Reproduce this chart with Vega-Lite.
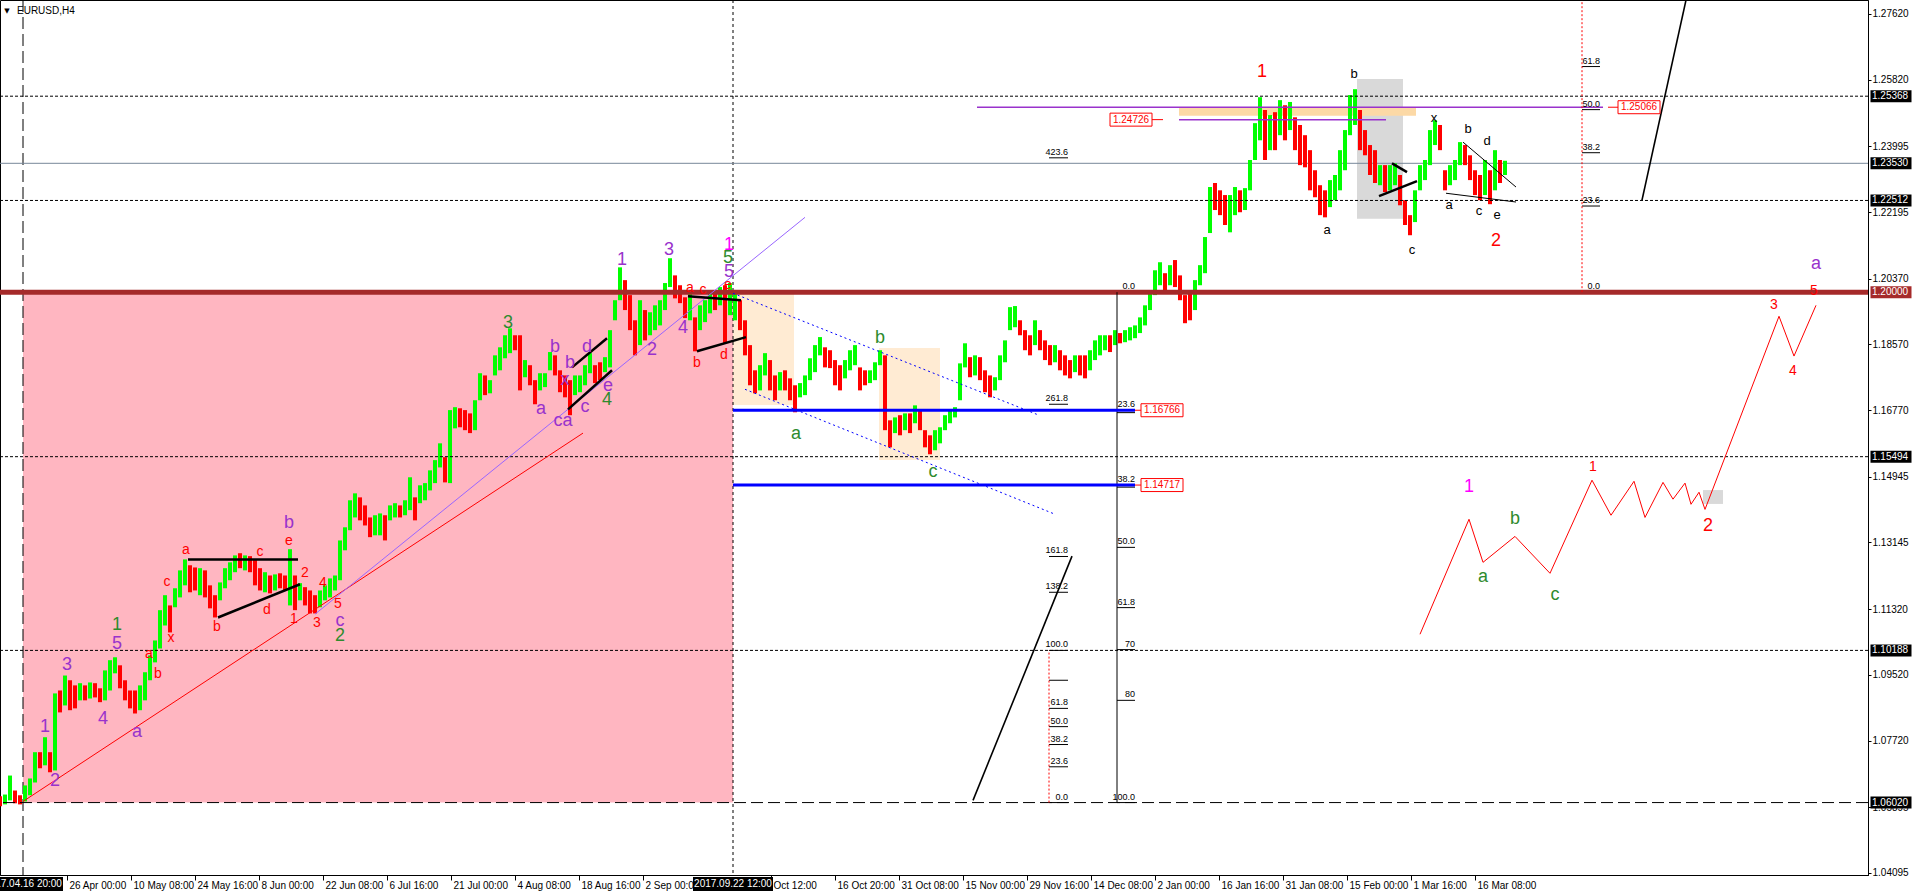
{
"$schema":"https://vega.github.io/schema/vega-lite/v6.json",
"width":1868,"height":875,
"autosize":{"type":"none"},
"padding":{"left":0,"top":0,"right":44,"bottom":21},
"background":"white",
"config":{"view":{"stroke":"#000","strokeWidth":1},"axis":{"grid":false,"domainColor":"#000","tickColor":"#000","labelColor":"#000","labelFont":"Liberation Sans","labelFontSize":10,"labelOverlap":false,"labelFlush":false}},
"datasets":{
"zones":[
{"k":"range","x1":23,"x2":733,"p1":1.0602,"p2":1.2},
{"k":"zone","x1":733,"x2":794,"p1":1.1691,"p2":1.2},
{"k":"zone","x1":879,"x2":940,"p1":1.154,"p2":1.1847},
{"k":"box","x1":1357,"x2":1403,"p1":1.2201,"p2":1.2584},
{"k":"box","x1":1703,"x2":1723,"p1":1.142,"p2":1.1458},
{"k":"target","x1":1179,"x2":1416,"p1":1.2483,"p2":1.2507}
],
"vlines":[{"x":23,"k":"start"},{"x":733,"k":"pivot"}],
"levels":[{"p":1.25368,"k":"swing"},{"p":1.2353,"k":"bid"},{"p":1.22512,"k":"swing"},{"p":1.2,"k":"pivot"},{"p":1.15494,"k":"swing"},{"p":1.10188,"k":"swing"},{"p":1.0602,"k":"base"}],
"bars":[
{"x":0,"o":1.0619,"c":1.0592},{"x":5,"o":1.0597,"c":1.0624},{"x":10,"o":1.0608,"c":1.0676},{"x":15,"o":1.0635,"c":1.06},{"x":20,"o":1.0622,"c":1.0597},{"x":25,"o":1.0605,"c":1.0649},{"x":30,"o":1.0622,"c":1.0668},{"x":35,"o":1.0657,"c":1.074},{"x":40,"o":1.074,"c":1.0696},{"x":45,"o":1.0704,"c":1.0781},{"x":50,"o":1.074,"c":1.0685},{"x":55,"o":1.069,"c":1.0901},{"x":60,"o":1.0909,"c":1.0849},{"x":65,"o":1.0868,"c":1.095},{"x":70,"o":1.0937,"c":1.0855},{"x":75,"o":1.0923,"c":1.086},{"x":80,"o":1.0882,"c":1.0929},{"x":85,"o":1.0923,"c":1.0882},{"x":90,"o":1.0887,"c":1.0931},{"x":95,"o":1.0929,"c":1.089},{"x":100,"o":1.0915,"c":1.0877},{"x":105,"o":1.0882,"c":1.0964},{"x":110,"o":1.0909,"c":1.0992},{"x":115,"o":1.0956,"c":1.1},{"x":120,"o":1.0978,"c":1.0915},{"x":125,"o":1.0937,"c":1.0882},{"x":130,"o":1.0909,"c":1.086},{"x":135,"o":1.0909,"c":1.0846},{"x":140,"o":1.0855,"c":1.0923},{"x":145,"o":1.0882,"c":1.0959},{"x":150,"o":1.0937,"c":1.1005},{"x":155,"o":1.0986,"c":1.1046},{"x":160,"o":1.1024,"c":1.1129},{"x":165,"o":1.1087,"c":1.117},{"x":170,"o":1.1142,"c":1.1068},{"x":175,"o":1.1137,"c":1.1189},{"x":180,"o":1.1164,"c":1.1238},{"x":185,"o":1.1197,"c":1.1268},{"x":190,"o":1.1252,"c":1.1178},{"x":195,"o":1.1246,"c":1.1183},{"x":200,"o":1.117,"c":1.1244},{"x":205,"o":1.1238,"c":1.1164},{"x":210,"o":1.1197,"c":1.1134},{"x":215,"o":1.117,"c":1.1109},{"x":220,"o":1.1156,"c":1.1205},{"x":225,"o":1.1189,"c":1.1244},{"x":230,"o":1.1211,"c":1.126},{"x":235,"o":1.1233,"c":1.1279},{"x":240,"o":1.1285,"c":1.1244},{"x":245,"o":1.1238,"c":1.1279},{"x":250,"o":1.1277,"c":1.1233},{"x":255,"o":1.1266,"c":1.1197},{"x":260,"o":1.1244,"c":1.1183},{"x":265,"o":1.1178,"c":1.1233},{"x":270,"o":1.1224,"c":1.1175},{"x":275,"o":1.1183,"c":1.1227},{"x":280,"o":1.123,"c":1.1189},{"x":285,"o":1.1224,"c":1.1183},{"x":290,"o":1.1142,"c":1.1296},{"x":295,"o":1.1224,"c":1.1129},{"x":300,"o":1.1156,"c":1.1203},{"x":305,"o":1.1192,"c":1.1142},{"x":310,"o":1.1183,"c":1.112},{"x":315,"o":1.117,"c":1.112},{"x":320,"o":1.1137,"c":1.1183},{"x":325,"o":1.1156,"c":1.1197},{"x":330,"o":1.1164,"c":1.1216},{"x":335,"o":1.1183,"c":1.1224},{"x":340,"o":1.1211,"c":1.132},{"x":345,"o":1.1293,"c":1.1356},{"x":350,"o":1.1348,"c":1.143},{"x":355,"o":1.1383,"c":1.1449},{"x":360,"o":1.1438,"c":1.1375},{"x":365,"o":1.1416,"c":1.1361},{"x":370,"o":1.1383,"c":1.1329},{"x":375,"o":1.1334,"c":1.1389},{"x":380,"o":1.1334,"c":1.1394},{"x":385,"o":1.1389,"c":1.132},{"x":390,"o":1.1375,"c":1.1416},{"x":395,"o":1.1383,"c":1.1422},{"x":400,"o":1.1416,"c":1.1383},{"x":405,"o":1.1389,"c":1.143},{"x":410,"o":1.1403,"c":1.1493},{"x":415,"o":1.1438,"c":1.1375},{"x":420,"o":1.1422,"c":1.1471},{"x":425,"o":1.143,"c":1.1477},{"x":430,"o":1.1457,"c":1.1512},{"x":435,"o":1.1477,"c":1.154},{"x":440,"o":1.152,"c":1.1586},{"x":445,"o":1.1548,"c":1.1479},{"x":450,"o":1.1477,"c":1.1677},{"x":455,"o":1.1627,"c":1.1685},{"x":460,"o":1.1682,"c":1.163},{"x":465,"o":1.1677,"c":1.1622},{"x":470,"o":1.1668,"c":1.1614},{"x":475,"o":1.1622,"c":1.1704},{"x":480,"o":1.1704,"c":1.1778},{"x":485,"o":1.1772,"c":1.1718},{"x":490,"o":1.1723,"c":1.1759},{"x":495,"o":1.1772,"c":1.1827},{"x":500,"o":1.1786,"c":1.1849},{"x":505,"o":1.1819,"c":1.1882},{"x":510,"o":1.1833,"c":1.1901},{"x":515,"o":1.1882,"c":1.1841},{"x":520,"o":1.1882,"c":1.1731},{"x":525,"o":1.1767,"c":1.1814},{"x":530,"o":1.18,"c":1.1745},{"x":535,"o":1.1759,"c":1.1693},{"x":540,"o":1.1731,"c":1.1778},{"x":545,"o":1.174,"c":1.1778},{"x":550,"o":1.1786,"c":1.1836},{"x":555,"o":1.1827,"c":1.1772},{"x":560,"o":1.1786,"c":1.1726},{"x":565,"o":1.1772,"c":1.1712},{"x":570,"o":1.1759,"c":1.1663},{"x":575,"o":1.1718,"c":1.1772},{"x":580,"o":1.1726,"c":1.1772},{"x":585,"o":1.1745,"c":1.18},{"x":590,"o":1.1778,"c":1.1833},{"x":595,"o":1.18,"c":1.1751},{"x":600,"o":1.1808,"c":1.1759},{"x":605,"o":1.1781,"c":1.1822},{"x":610,"o":1.1794,"c":1.1896},{"x":615,"o":1.1923,"c":1.1978},{"x":620,"o":1.1978,"c":1.2068},{"x":625,"o":1.2033,"c":1.1951},{"x":630,"o":1.1992,"c":1.1896},{"x":635,"o":1.1923,"c":1.1827},{"x":640,"o":1.1855,"c":1.1978},{"x":645,"o":1.1951,"c":1.1868},{"x":650,"o":1.1882,"c":1.1945},{"x":655,"o":1.1896,"c":1.1964},{"x":660,"o":1.1909,"c":1.1978},{"x":665,"o":1.1951,"c":1.2025},{"x":670,"o":1.2014,"c":1.2093},{"x":675,"o":1.2046,"c":1.1983},{"x":680,"o":1.2019,"c":1.197},{"x":685,"o":1.1986,"c":1.1929},{"x":690,"o":1.1923,"c":1.1997},{"x":695,"o":1.1931,"c":1.1838},{"x":700,"o":1.1896,"c":1.1964},{"x":705,"o":1.1918,"c":1.1978},{"x":710,"o":1.1942,"c":1.1997},{"x":715,"o":1.2005,"c":1.1951},{"x":720,"o":1.1964,"c":1.2014},{"x":725,"o":1.2019,"c":1.186},{"x":730,"o":1.1937,"c":1.2025},{"x":735,"o":1.1923,"c":1.2005},{"x":740,"o":1.1978,"c":1.1896},{"x":745,"o":1.1923,"c":1.1827},{"x":750,"o":1.1855,"c":1.1745},{"x":755,"o":1.1786,"c":1.1723},{"x":760,"o":1.1731,"c":1.18},{"x":765,"o":1.1772,"c":1.1833},{"x":770,"o":1.1814,"c":1.1731},{"x":775,"o":1.1772,"c":1.1704},{"x":780,"o":1.1731,"c":1.1781},{"x":785,"o":1.1786,"c":1.1731},{"x":790,"o":1.1764,"c":1.1704},{"x":795,"o":1.1745,"c":1.1671},{"x":800,"o":1.1712,"c":1.1751},{"x":805,"o":1.1718,"c":1.1772},{"x":810,"o":1.1759,"c":1.1819},{"x":815,"o":1.1781,"c":1.1855},{"x":820,"o":1.1827,"c":1.1877},{"x":825,"o":1.1849,"c":1.1794},{"x":830,"o":1.1841,"c":1.1792},{"x":835,"o":1.1814,"c":1.1745},{"x":840,"o":1.18,"c":1.1731},{"x":845,"o":1.1764,"c":1.1814},{"x":850,"o":1.1786,"c":1.1841},{"x":855,"o":1.18,"c":1.1855},{"x":860,"o":1.1794,"c":1.1731},{"x":865,"o":1.1786,"c":1.1745},{"x":870,"o":1.1751,"c":1.1786},{"x":875,"o":1.1759,"c":1.1808},{"x":880,"o":1.18,"c":1.1841},{"x":885,"o":1.1827,"c":1.1622},{"x":890,"o":1.1649,"c":1.1575},{"x":895,"o":1.1614,"c":1.1657},{"x":900,"o":1.1663,"c":1.1608},{"x":905,"o":1.1622,"c":1.1668},{"x":910,"o":1.1668,"c":1.1614},{"x":915,"o":1.1641,"c":1.169},{"x":920,"o":1.1677,"c":1.1622},{"x":925,"o":1.1622,"c":1.1575},{"x":930,"o":1.1608,"c":1.1556},{"x":935,"o":1.1567,"c":1.1622},{"x":940,"o":1.1586,"c":1.163},{"x":945,"o":1.1622,"c":1.1663},{"x":950,"o":1.1641,"c":1.1677},{"x":955,"o":1.1657,"c":1.1685},{"x":960,"o":1.1704,"c":1.1805},{"x":965,"o":1.1794,"c":1.186},{"x":970,"o":1.1822,"c":1.1767},{"x":975,"o":1.1772,"c":1.1827},{"x":980,"o":1.1822,"c":1.1759},{"x":985,"o":1.1786,"c":1.1726},{"x":990,"o":1.1772,"c":1.1712},{"x":995,"o":1.1731,"c":1.1767},{"x":1000,"o":1.1759,"c":1.1827},{"x":1005,"o":1.1808,"c":1.1868},{"x":1010,"o":1.1896,"c":1.1959},{"x":1015,"o":1.1904,"c":1.1962},{"x":1020,"o":1.1923,"c":1.1882},{"x":1025,"o":1.1896,"c":1.1841},{"x":1030,"o":1.1882,"c":1.1827},{"x":1035,"o":1.1855,"c":1.1923},{"x":1040,"o":1.1896,"c":1.1841},{"x":1045,"o":1.1868,"c":1.1814},{"x":1050,"o":1.1855,"c":1.18},{"x":1055,"o":1.1808,"c":1.1855},{"x":1060,"o":1.1841,"c":1.1786},{"x":1065,"o":1.1827,"c":1.1772},{"x":1070,"o":1.1814,"c":1.1764},{"x":1075,"o":1.1781,"c":1.1827},{"x":1080,"o":1.1827,"c":1.1772},{"x":1085,"o":1.1827,"c":1.1764},{"x":1090,"o":1.1786,"c":1.1841},{"x":1095,"o":1.1814,"c":1.1868},{"x":1100,"o":1.1827,"c":1.1882},{"x":1105,"o":1.1841,"c":1.1882},{"x":1110,"o":1.1882,"c":1.1836},{"x":1115,"o":1.1855,"c":1.1896},{"x":1120,"o":1.1888,"c":1.186},{"x":1125,"o":1.1863,"c":1.1896},{"x":1130,"o":1.1868,"c":1.1904},{"x":1135,"o":1.1874,"c":1.1909},{"x":1140,"o":1.1888,"c":1.1931},{"x":1145,"o":1.1909,"c":1.1964},{"x":1150,"o":1.1951,"c":1.2005},{"x":1155,"o":1.1992,"c":1.206},{"x":1160,"o":1.2019,"c":1.2082},{"x":1165,"o":1.2052,"c":1.2005},{"x":1170,"o":1.2019,"c":1.2074},{"x":1175,"o":1.2088,"c":1.2014},{"x":1180,"o":1.2046,"c":1.1978},{"x":1185,"o":1.1992,"c":1.1915},{"x":1190,"o":1.2005,"c":1.1923},{"x":1195,"o":1.1951,"c":1.2033},{"x":1200,"o":1.2019,"c":1.2074},{"x":1205,"o":1.2052,"c":1.2151},{"x":1210,"o":1.2162,"c":1.2288},{"x":1215,"o":1.2299,"c":1.2225},{"x":1220,"o":1.2279,"c":1.2211},{"x":1225,"o":1.2266,"c":1.2184},{"x":1230,"o":1.2164,"c":1.2266},{"x":1235,"o":1.2211,"c":1.2288},{"x":1240,"o":1.2279,"c":1.2219},{"x":1245,"o":1.2225,"c":1.2285},{"x":1250,"o":1.2279,"c":1.2362},{"x":1255,"o":1.2362,"c":1.2463},{"x":1260,"o":1.2416,"c":1.2534},{"x":1265,"o":1.2499,"c":1.2362},{"x":1270,"o":1.2389,"c":1.2485},{"x":1275,"o":1.2493,"c":1.2389},{"x":1280,"o":1.243,"c":1.2526},{"x":1285,"o":1.2512,"c":1.2416},{"x":1290,"o":1.2444,"c":1.2521},{"x":1295,"o":1.2479,"c":1.2389},{"x":1300,"o":1.2458,"c":1.2348},{"x":1305,"o":1.243,"c":1.2342},{"x":1310,"o":1.2389,"c":1.2279},{"x":1315,"o":1.2334,"c":1.226},{"x":1320,"o":1.2293,"c":1.2211},{"x":1325,"o":1.2279,"c":1.2205},{"x":1330,"o":1.2233,"c":1.2307},{"x":1335,"o":1.2252,"c":1.2321},{"x":1340,"o":1.2279,"c":1.2389},{"x":1345,"o":1.2334,"c":1.2444},{"x":1350,"o":1.243,"c":1.254},{"x":1355,"o":1.2458,"c":1.2556},{"x":1360,"o":1.2499,"c":1.2389},{"x":1365,"o":1.2444,"c":1.2375},{"x":1370,"o":1.2403,"c":1.2321},{"x":1375,"o":1.2389,"c":1.2299},{"x":1380,"o":1.2293,"c":1.2348},{"x":1385,"o":1.2348,"c":1.2274},{"x":1390,"o":1.2279,"c":1.2348},{"x":1395,"o":1.2293,"c":1.2353},{"x":1400,"o":1.2321,"c":1.2238},{"x":1405,"o":1.2252,"c":1.2184},{"x":1410,"o":1.2211,"c":1.2156},{"x":1415,"o":1.2192,"c":1.2279},{"x":1420,"o":1.2279,"c":1.2348},{"x":1425,"o":1.2307,"c":1.2362},{"x":1430,"o":1.2348,"c":1.2444},{"x":1435,"o":1.2403,"c":1.2471},{"x":1440,"o":1.2458,"c":1.2389},{"x":1445,"o":1.2334,"c":1.2279},{"x":1450,"o":1.2293,"c":1.2348},{"x":1455,"o":1.2307,"c":1.2362},{"x":1460,"o":1.2348,"c":1.2411},{"x":1465,"o":1.2403,"c":1.2348},{"x":1470,"o":1.2375,"c":1.2307},{"x":1475,"o":1.2334,"c":1.2266},{"x":1480,"o":1.2321,"c":1.2252},{"x":1485,"o":1.2266,"c":1.2362},{"x":1490,"o":1.2334,"c":1.2241},{"x":1495,"o":1.2279,"c":1.2389},{"x":1500,"o":1.2362,"c":1.2299},{"x":1505,"o":1.2321,"c":1.236}
],
"segs":[
{"k":"base","x1":23,"p1":1.0605,"x2":583,"p2":1.1614},
{"k":"inner","x1":315,"p1":1.1118,"x2":805,"p2":1.2205},
{"k":"channel","x1":733,"p1":1.1997,"x2":1039,"p2":1.1663},
{"k":"channel","x1":745,"p1":1.1734,"x2":1053,"p2":1.1394},
{"k":"wedge","x1":188,"p1":1.1268,"x2":298,"p2":1.1268},
{"k":"wedge","x1":218,"p1":1.1109,"x2":300,"p2":1.12},
{"k":"wedge","x1":572,"p1":1.1794,"x2":607,"p2":1.1874},
{"k":"wedge","x1":568,"p1":1.1679,"x2":612,"p2":1.1786},
{"k":"wedge","x1":688,"p1":1.1989,"x2":741,"p2":1.1978},
{"k":"wedge","x1":697,"p1":1.1838,"x2":746,"p2":1.1877},
{"k":"wedge","x1":1379,"p1":1.2263,"x2":1417,"p2":1.2304},
{"k":"wedge","x1":1392,"p1":1.2353,"x2":1407,"p2":1.2329},
{"k":"triangle","x1":1463,"p1":1.2411,"x2":1516,"p2":1.2288},
{"k":"triangle","x1":1446,"p1":1.2271,"x2":1516,"p2":1.2247},
{"k":"impulse","x1":1642,"p1":1.2252,"x2":1686,"p2":1.28},
{"k":"impulse","x1":973,"p1":1.0608,"x2":1072,"p2":1.1277},
{"k":"resistance","x1":977,"p1":1.25066,"x2":1603,"p2":1.25066},
{"k":"resistance","x1":1179,"p1":1.24726,"x2":1386,"p2":1.24726},
{"k":"support","x1":733,"p1":1.16766,"x2":1135,"p2":1.16766},
{"k":"support","x1":733,"p1":1.14717,"x2":1135,"p2":1.14717},
{"k":"link","x1":1135,"p1":1.16766,"x2":1141,"p2":1.16766},
{"k":"link","x1":1135,"p1":1.14717,"x2":1141,"p2":1.14717},
{"k":"link","x1":1152,"p1":1.24726,"x2":1163,"p2":1.24726},
{"k":"link","x1":1608,"p1":1.25066,"x2":1619,"p2":1.25066},
{"k":"fibSpan","x1":1117,"p1":1.2,"x2":1117,"p2":1.0602},
{"k":"fibRange","x1":1049,"p1":1.0602,"x2":1049,"p2":1.10188},
{"k":"fibRange","x1":1582,"p1":1.2,"x2":1582,"p2":1.28},
{"k":"fibLevel","x1":1117,"p1":1.167,"x2":1135,"p2":1.167},
{"k":"fibLevel","x1":1117,"p1":1.1466,"x2":1135,"p2":1.1466},
{"k":"fibLevel","x1":1117,"p1":1.1301,"x2":1135,"p2":1.1301},
{"k":"fibLevel","x1":1117,"p1":1.1136,"x2":1135,"p2":1.1136},
{"k":"fibLevel","x1":1117,"p1":1.1021,"x2":1135,"p2":1.1021},
{"k":"fibLevel","x1":1117,"p1":1.0882,"x2":1135,"p2":1.0882},
{"k":"fibLevel","x1":1117,"p1":1.0602,"x2":1135,"p2":1.0602},
{"k":"fibLevel","x1":1049,"p1":1.2368,"x2":1068,"p2":1.2368},
{"k":"fibLevel","x1":1049,"p1":1.1693,"x2":1068,"p2":1.1693},
{"k":"fibLevel","x1":1049,"p1":1.1276,"x2":1068,"p2":1.1276},
{"k":"fibLevel","x1":1049,"p1":1.1178,"x2":1068,"p2":1.1178},
{"k":"fibLevel","x1":1049,"p1":1.10188,"x2":1068,"p2":1.10188},
{"k":"fibLevel","x1":1049,"p1":1.0937,"x2":1068,"p2":1.0937},
{"k":"fibLevel","x1":1049,"p1":1.086,"x2":1068,"p2":1.086},
{"k":"fibLevel","x1":1049,"p1":1.081,"x2":1068,"p2":1.081},
{"k":"fibLevel","x1":1049,"p1":1.0761,"x2":1068,"p2":1.0761},
{"k":"fibLevel","x1":1049,"p1":1.07,"x2":1068,"p2":1.07},
{"k":"fibLevel","x1":1049,"p1":1.0602,"x2":1068,"p2":1.0602},
{"k":"fibLevel","x1":1582,"p1":1.2236,"x2":1600,"p2":1.2236},
{"k":"fibLevel","x1":1582,"p1":1.2382,"x2":1600,"p2":1.2382},
{"k":"fibLevel","x1":1582,"p1":1.25,"x2":1600,"p2":1.25},
{"k":"fibLevel","x1":1582,"p1":1.2618,"x2":1600,"p2":1.2618}
],
"fcst":[
{"i":0,"x":1420,"p":1.1063},{"i":1,"x":1469,"p":1.1378},{"i":2,"x":1483,"p":1.126},{"i":3,"x":1515,"p":1.1331},{"i":4,"x":1550,"p":1.123},{"i":5,"x":1592,"p":1.1485},{"i":6,"x":1611,"p":1.1389},{"i":7,"x":1634,"p":1.1482},{"i":8,"x":1645,"p":1.1383},{"i":9,"x":1663,"p":1.1479},{"i":10,"x":1673,"p":1.1433},{"i":11,"x":1685,"p":1.1477},{"i":12,"x":1691,"p":1.1419},{"i":13,"x":1699,"p":1.1452},{"i":14,"x":1705,"p":1.1405},{"i":15,"x":1779,"p":1.1934},{"i":16,"x":1794,"p":1.1825},{"i":17,"x":1816,"p":1.1964}
],
"fibtxt":[
{"x":1135,"p":1.2,"t":"0.0"},{"x":1135,"p":1.16766,"t":"23.6"},{"x":1135,"p":1.14717,"t":"38.2"},{"x":1135,"p":1.1301,"t":"50.0"},{"x":1135,"p":1.1136,"t":"61.8"},{"x":1135,"p":1.1021,"t":"70"},{"x":1135,"p":1.0882,"t":"80"},{"x":1135,"p":1.0602,"t":"100.0"},
{"x":1068,"p":1.2368,"t":"423.6"},{"x":1068,"p":1.1693,"t":"261.8"},{"x":1068,"p":1.1276,"t":"161.8"},{"x":1068,"p":1.1178,"t":"138.2"},{"x":1068,"p":1.10188,"t":"100.0"},{"x":1068,"p":1.086,"t":"61.8"},{"x":1068,"p":1.081,"t":"50.0"},{"x":1068,"p":1.0761,"t":"38.2"},{"x":1068,"p":1.07,"t":"23.6"},{"x":1068,"p":1.0602,"t":"0.0"},
{"x":1600,"p":1.2,"t":"0.0"},{"x":1600,"p":1.2236,"t":"23.6"},{"x":1600,"p":1.2382,"t":"38.2"},{"x":1600,"p":1.25,"t":"50.0"},{"x":1600,"p":1.2618,"t":"61.8"}
],
"waves":[
{"x":45,"p":1.0808,"t":"1","d":"Minor"},{"x":55,"p":1.066,"t":"2","d":"Minor"},{"x":67,"p":1.0978,"t":"3","d":"Minor"},{"x":103,"p":1.083,"t":"4","d":"Minor"},{"x":117,"p":1.1035,"t":"5","d":"Minor"},{"x":117,"p":1.1088,"t":"1","d":"Intermediate"},{"x":137,"p":1.0794,"t":"a","d":"Minor"},
{"x":149,"p":1.1008,"t":"a","d":"Minute"},{"x":158,"p":1.0953,"t":"b","d":"Minute"},{"x":171,"p":1.1052,"t":"x","d":"Minute"},{"x":167,"p":1.1205,"t":"c","d":"Minute"},{"x":186,"p":1.1293,"t":"a","d":"Minute"},{"x":217,"p":1.1082,"t":"b","d":"Minute"},{"x":260,"p":1.1288,"t":"c","d":"Minute"},{"x":267,"p":1.1129,"t":"d","d":"Minute"},{"x":289,"p":1.1318,"t":"e","d":"Minute"},{"x":289,"p":1.1367,"t":"b","d":"Minor"},
{"x":305,"p":1.123,"t":"2","d":"Minute"},{"x":323,"p":1.1203,"t":"4","d":"Minute"},{"x":294,"p":1.1104,"t":"1","d":"Minute"},{"x":317,"p":1.1093,"t":"3","d":"Minute"},{"x":338,"p":1.1145,"t":"5","d":"Minute"},{"x":340,"p":1.1098,"t":"c","d":"Minor"},{"x":340,"p":1.1057,"t":"2","d":"Intermediate"},
{"x":508,"p":1.1915,"t":"3","d":"Intermediate"},{"x":555,"p":1.1849,"t":"b","d":"Minor"},{"x":541,"p":1.1679,"t":"a","d":"Minor"},{"x":563,"p":1.1646,"t":"ca","d":"Minor"},{"x":565,"p":1.1759,"t":"x","d":"Minor"},{"x":570,"p":1.1805,"t":"b","d":"Minor"},{"x":585,"p":1.1685,"t":"c","d":"Minor"},{"x":587,"p":1.1849,"t":"d","d":"Minor"},{"x":608,"p":1.1742,"t":"e","d":"Minor"},{"x":607,"p":1.1704,"t":"4","d":"Intermediate"},
{"x":622,"p":1.2088,"t":"1","d":"Minor"},{"x":652,"p":1.1841,"t":"2","d":"Minor"},{"x":669,"p":1.2115,"t":"3","d":"Minor"},{"x":683,"p":1.1901,"t":"4","d":"Minor"},
{"x":690,"p":1.2011,"t":"a","d":"Minute"},{"x":703,"p":1.2005,"t":"c","d":"Minute"},{"x":697,"p":1.1805,"t":"b","d":"Minute"},{"x":724,"p":1.1827,"t":"d","d":"Minute"},{"x":728,"p":1.2019,"t":"e","d":"Minute"},
{"x":729,"p":1.2129,"t":"1","d":"Primary"},{"x":728,"p":1.2093,"t":"5","d":"Intermediate"},{"x":729,"p":1.2055,"t":"5","d":"Minor"},
{"x":880,"p":1.1874,"t":"b","d":"Intermediate"},{"x":796,"p":1.1611,"t":"a","d":"Intermediate"},{"x":933,"p":1.1507,"t":"c","d":"Intermediate"},
{"x":1262,"p":1.2603,"t":"1","d":"MinuteMajor"},{"x":1354,"p":1.2597,"t":"b","d":"Minuette"},{"x":1434,"p":1.2477,"t":"x","d":"Minuette"},{"x":1468,"p":1.2447,"t":"b","d":"Minuette"},{"x":1487,"p":1.2414,"t":"d","d":"Minuette"},{"x":1327,"p":1.217,"t":"a","d":"Minuette"},{"x":1449,"p":1.2238,"t":"a","d":"Minuette"},{"x":1479,"p":1.2222,"t":"c","d":"Minuette"},{"x":1497,"p":1.2211,"t":"e","d":"Minuette"},{"x":1496,"p":1.214,"t":"2","d":"MinuteMajor"},{"x":1412,"p":1.2115,"t":"c","d":"Minuette"},
{"x":1816,"p":1.2077,"t":"a","d":"Minor"},{"x":1814,"p":1.2003,"t":"5","d":"Minute"},{"x":1774,"p":1.1964,"t":"3","d":"Minute"},{"x":1793,"p":1.1783,"t":"4","d":"Minute"},
{"x":1469,"p":1.1466,"t":"1","d":"Primary"},{"x":1483,"p":1.1219,"t":"a","d":"Intermediate"},{"x":1515,"p":1.1378,"t":"b","d":"Intermediate"},{"x":1555,"p":1.117,"t":"c","d":"Intermediate"},{"x":1593,"p":1.152,"t":"1","d":"Minute"},{"x":1708,"p":1.1359,"t":"2","d":"MinuteMajor"}
],
"rtags":[{"x":1131,"p":1.24726},{"x":1639,"p":1.25066},{"x":1162,"p":1.16766},{"x":1162,"p":1.14717}],
"ttags":[{"x":23,"t":"2017.04.16 20:00"},{"x":733,"t":"2017.09.22 12:00"}]
},
"layer":[
{"data":{"name":"zones"},"mark":{"type":"rect"},
"encoding":{
"x":{"field":"x1","type":"quantitative","scale":{"domain":[0,1868],"nice":false,"zero":false},
"axis":{"orient":"bottom","values":[67,131,195,259,323,387,451,515,579,643,771,835,899,963,1027,1091,1155,1219,1283,1347,1411,1475],
"labelExpr":"['26 Apr 00:00','10 May 08:00','24 May 16:00','8 Jun 00:00','22 Jun 08:00','6 Jul 16:00','21 Jul 00:00','4 Aug 08:00','18 Aug 16:00','2 Sep 00:00','16 Sep 08:00','Oct 12:00','16 Oct 20:00','31 Oct 08:00','15 Nov 00:00','29 Nov 16:00','14 Dec 08:00','2 Jan 00:00','16 Jan 16:00','31 Jan 08:00','15 Feb 00:00','1 Mar 16:00','16 Mar 08:00'][round((datum.value-67)/64)]",
"labelAlign":"left","labelOffset":2,"tickSize":5,"labelPadding":0,"labelOverlap":false,"labelFlush":false,"title":null,"grid":false}},
"x2":{"field":"x2"},
"y":{"field":"p1","type":"quantitative","scale":{"domain":[1.04036,1.28003],"nice":false,"zero":false},
"axis":{"orient":"right","values":[1.2762,1.2672,1.2582,1.24895,1.23995,1.23095,1.22195,1.21295,1.2037,1.1947,1.1857,1.1767,1.1677,1.15845,1.14945,1.14045,1.13145,1.12245,1.1132,1.1042,1.0952,1.0862,1.0772,1.06795,1.05895,1.04995,1.04095],
"format":".5f","tickSize":3,"labelPadding":1,"labelOverlap":false,"labelFlush":false,"title":null,"grid":false}},
"y2":{"field":"p2"},
"color":{"field":"k","type":"nominal","legend":null,"scale":{"domain":["range","zone","box","target"],"range":["#FFB6C1","#FFEBD3","#D9D9D9","#FCD9A6"]}}
}},
{"data":{"name":"vlines"},"transform":[{"filter":"datum.k=='start'"}],"mark":{"type":"rule","color":"#000","strokeWidth":1,"strokeDash":[12,5]},
"encoding":{"x":{"field":"x","type":"quantitative","scale":{"domain":[0,1868],"nice":false,"zero":false}}}},
{"data":{"name":"vlines"},"transform":[{"filter":"datum.k=='pivot'"}],"mark":{"type":"rule","color":"#000","strokeWidth":1,"strokeDash":[3,3]},
"encoding":{"x":{"field":"x","type":"quantitative","scale":{"domain":[0,1868],"nice":false,"zero":false}}}},
{"data":{"name":"levels"},"transform":[{"filter":"datum.k=='bid'"}],"mark":{"type":"rule","color":"#778899","strokeWidth":1},
"encoding":{"y":{"field":"p","type":"quantitative","scale":{"domain":[1.04036,1.28003],"nice":false,"zero":false}}}},
{"data":{"name":"bars"},"mark":{"type":"rule","strokeWidth":4},
"encoding":{
"x":{"field":"x","type":"quantitative","scale":{"domain":[0,1868],"nice":false,"zero":false}},
"y":{"field":"o","type":"quantitative","scale":{"domain":[1.04036,1.28003],"nice":false,"zero":false}},
"y2":{"field":"c"},
"color":{"condition":{"test":"datum.c>=datum.o","value":"#00FF00"},"value":"#FF0000"}}},
{"data":{"name":"levels"},"transform":[{"filter":"datum.k=='swing'"}],"mark":{"type":"rule","color":"#000","strokeWidth":1,"strokeDash":[3,2]},
"encoding":{"y":{"field":"p","type":"quantitative","scale":{"domain":[1.04036,1.28003],"nice":false,"zero":false}}}},
{"data":{"name":"levels"},"transform":[{"filter":"datum.k=='base'"}],"mark":{"type":"rule","color":"#000","strokeWidth":1,"strokeDash":[12,5]},
"encoding":{"y":{"field":"p","type":"quantitative","scale":{"domain":[1.04036,1.28003],"nice":false,"zero":false}}}},
{"data":{"name":"levels"},"transform":[{"filter":"datum.k=='pivot'"}],"mark":{"type":"rule","color":"#A52A2A","strokeWidth":5},
"encoding":{"y":{"field":"p","type":"quantitative","scale":{"domain":[1.04036,1.28003],"nice":false,"zero":false}}}},
{"data":{"name":"segs"},"transform":[{"filter":"datum.k=='base' || datum.k=='link'"}],"mark":{"type":"rule","color":"#FF0000","strokeWidth":1},
"encoding":{"x":{"field":"x1","type":"quantitative","scale":{"domain":[0,1868],"nice":false,"zero":false}},"x2":{"field":"x2"},"y":{"field":"p1","type":"quantitative","scale":{"domain":[1.04036,1.28003],"nice":false,"zero":false}},"y2":{"field":"p2"}}},
{"data":{"name":"segs"},"transform":[{"filter":"datum.k=='inner'"}],"mark":{"type":"rule","color":"#9966FF","strokeWidth":1},
"encoding":{"x":{"field":"x1","type":"quantitative","scale":{"domain":[0,1868],"nice":false,"zero":false}},"x2":{"field":"x2"},"y":{"field":"p1","type":"quantitative","scale":{"domain":[1.04036,1.28003],"nice":false,"zero":false}},"y2":{"field":"p2"}}},
{"data":{"name":"segs"},"transform":[{"filter":"datum.k=='channel'"}],"mark":{"type":"rule","color":"#0000FF","strokeWidth":1,"strokeDash":[2,3]},
"encoding":{"x":{"field":"x1","type":"quantitative","scale":{"domain":[0,1868],"nice":false,"zero":false}},"x2":{"field":"x2"},"y":{"field":"p1","type":"quantitative","scale":{"domain":[1.04036,1.28003],"nice":false,"zero":false}},"y2":{"field":"p2"}}},
{"data":{"name":"segs"},"transform":[{"filter":"datum.k=='wedge'"}],"mark":{"type":"rule","color":"#000","strokeWidth":2.5},
"encoding":{"x":{"field":"x1","type":"quantitative","scale":{"domain":[0,1868],"nice":false,"zero":false}},"x2":{"field":"x2"},"y":{"field":"p1","type":"quantitative","scale":{"domain":[1.04036,1.28003],"nice":false,"zero":false}},"y2":{"field":"p2"}}},
{"data":{"name":"segs"},"transform":[{"filter":"datum.k=='triangle' || datum.k=='fibSpan' || datum.k=='fibLevel'"}],"mark":{"type":"rule","color":"#000","strokeWidth":1},
"encoding":{"x":{"field":"x1","type":"quantitative","scale":{"domain":[0,1868],"nice":false,"zero":false}},"x2":{"field":"x2"},"y":{"field":"p1","type":"quantitative","scale":{"domain":[1.04036,1.28003],"nice":false,"zero":false}},"y2":{"field":"p2"}}},
{"data":{"name":"segs"},"transform":[{"filter":"datum.k=='impulse'"}],"mark":{"type":"rule","color":"#000","strokeWidth":1.6},
"encoding":{"x":{"field":"x1","type":"quantitative","scale":{"domain":[0,1868],"nice":false,"zero":false}},"x2":{"field":"x2"},"y":{"field":"p1","type":"quantitative","scale":{"domain":[1.04036,1.28003],"nice":false,"zero":false}},"y2":{"field":"p2"}}},
{"data":{"name":"segs"},"transform":[{"filter":"datum.k=='resistance'"}],"mark":{"type":"rule","color":"#9932CC","strokeWidth":1.5},
"encoding":{"x":{"field":"x1","type":"quantitative","scale":{"domain":[0,1868],"nice":false,"zero":false}},"x2":{"field":"x2"},"y":{"field":"p1","type":"quantitative","scale":{"domain":[1.04036,1.28003],"nice":false,"zero":false}},"y2":{"field":"p2"}}},
{"data":{"name":"segs"},"transform":[{"filter":"datum.k=='support'"}],"mark":{"type":"rule","color":"#0000FF","strokeWidth":3},
"encoding":{"x":{"field":"x1","type":"quantitative","scale":{"domain":[0,1868],"nice":false,"zero":false}},"x2":{"field":"x2"},"y":{"field":"p1","type":"quantitative","scale":{"domain":[1.04036,1.28003],"nice":false,"zero":false}},"y2":{"field":"p2"}}},
{"data":{"name":"segs"},"transform":[{"filter":"datum.k=='fibRange'"}],"mark":{"type":"rule","color":"#FF0000","strokeWidth":1,"strokeDash":[2,2]},
"encoding":{"x":{"field":"x1","type":"quantitative","scale":{"domain":[0,1868],"nice":false,"zero":false}},"x2":{"field":"x2"},"y":{"field":"p1","type":"quantitative","scale":{"domain":[1.04036,1.28003],"nice":false,"zero":false}},"y2":{"field":"p2"}}},
{"data":{"name":"fcst"},"mark":{"type":"line","color":"#FF0000","strokeWidth":1},
"encoding":{"x":{"field":"x","type":"quantitative","scale":{"domain":[0,1868],"nice":false,"zero":false}},"y":{"field":"p","type":"quantitative","scale":{"domain":[1.04036,1.28003],"nice":false,"zero":false}},"order":{"field":"i"}}},
{"data":{"name":"fibtxt"},"mark":{"type":"text","align":"right","baseline":"bottom","dy":-1,"font":"Liberation Sans","fontSize":9,"color":"#000"},
"encoding":{"x":{"field":"x","type":"quantitative","scale":{"domain":[0,1868],"nice":false,"zero":false}},"y":{"field":"p","type":"quantitative","scale":{"domain":[1.04036,1.28003],"nice":false,"zero":false}},"text":{"field":"t"}}},
{"data":{"name":"waves"},"transform":[{"filter":"datum.d=='Minor'"}],"mark":{"type":"text","baseline":"middle","font":"Liberation Sans","fontSize":18,"color":"#9932CC"},
"encoding":{"x":{"field":"x","type":"quantitative","scale":{"domain":[0,1868],"nice":false,"zero":false}},"y":{"field":"p","type":"quantitative","scale":{"domain":[1.04036,1.28003],"nice":false,"zero":false}},"text":{"field":"t"}}},
{"data":{"name":"waves"},"transform":[{"filter":"datum.d=='Intermediate'"}],"mark":{"type":"text","baseline":"middle","font":"Liberation Sans","fontSize":18,"color":"#2E8B2E"},
"encoding":{"x":{"field":"x","type":"quantitative","scale":{"domain":[0,1868],"nice":false,"zero":false}},"y":{"field":"p","type":"quantitative","scale":{"domain":[1.04036,1.28003],"nice":false,"zero":false}},"text":{"field":"t"}}},
{"data":{"name":"waves"},"transform":[{"filter":"datum.d=='Primary'"}],"mark":{"type":"text","baseline":"middle","font":"Liberation Sans","fontSize":18,"color":"#FF00FF"},
"encoding":{"x":{"field":"x","type":"quantitative","scale":{"domain":[0,1868],"nice":false,"zero":false}},"y":{"field":"p","type":"quantitative","scale":{"domain":[1.04036,1.28003],"nice":false,"zero":false}},"text":{"field":"t"}}},
{"data":{"name":"waves"},"transform":[{"filter":"datum.d=='Minute'"}],"mark":{"type":"text","baseline":"middle","font":"Liberation Sans","fontSize":14,"color":"#FF0000"},
"encoding":{"x":{"field":"x","type":"quantitative","scale":{"domain":[0,1868],"nice":false,"zero":false}},"y":{"field":"p","type":"quantitative","scale":{"domain":[1.04036,1.28003],"nice":false,"zero":false}},"text":{"field":"t"}}},
{"data":{"name":"waves"},"transform":[{"filter":"datum.d=='MinuteMajor'"}],"mark":{"type":"text","baseline":"middle","font":"Liberation Sans","fontSize":18,"color":"#FF0000"},
"encoding":{"x":{"field":"x","type":"quantitative","scale":{"domain":[0,1868],"nice":false,"zero":false}},"y":{"field":"p","type":"quantitative","scale":{"domain":[1.04036,1.28003],"nice":false,"zero":false}},"text":{"field":"t"}}},
{"data":{"name":"waves"},"transform":[{"filter":"datum.d=='Minuette'"}],"mark":{"type":"text","baseline":"middle","font":"Liberation Sans","fontSize":13,"color":"#000"},
"encoding":{"x":{"field":"x","type":"quantitative","scale":{"domain":[0,1868],"nice":false,"zero":false}},"y":{"field":"p","type":"quantitative","scale":{"domain":[1.04036,1.28003],"nice":false,"zero":false}},"text":{"field":"t"}}},
{"data":{"name":"rtags"},"mark":{"type":"tick","orient":"horizontal","size":42,"thickness":13,"fill":"#FFFFFF","stroke":"#FF0000","strokeWidth":1,"opacity":1},
"encoding":{"x":{"field":"x","type":"quantitative","scale":{"domain":[0,1868],"nice":false,"zero":false}},"y":{"field":"p","type":"quantitative","scale":{"domain":[1.04036,1.28003],"nice":false,"zero":false}}}},
{"data":{"name":"rtags"},"mark":{"type":"text","baseline":"middle","align":"center","font":"Liberation Sans","fontSize":10,"color":"#FF0000"},
"encoding":{"x":{"field":"x","type":"quantitative","scale":{"domain":[0,1868],"nice":false,"zero":false}},"y":{"field":"p","type":"quantitative","scale":{"domain":[1.04036,1.28003],"nice":false,"zero":false}},"text":{"field":"p","type":"quantitative","format":".5f"}}},
{"data":{"name":"levels"},"mark":{"type":"tick","orient":"horizontal","size":41,"thickness":12,"opacity":1},
"encoding":{"x":{"datum":1891,"type":"quantitative","scale":{"domain":[0,1868],"nice":false,"zero":false}},"y":{"field":"p","type":"quantitative","scale":{"domain":[1.04036,1.28003],"nice":false,"zero":false}},
"color":{"condition":{"test":"datum.k=='pivot'","value":"#A52A2A"},"value":"#000000"}}},
{"data":{"name":"levels"},"mark":{"type":"text","baseline":"middle","align":"left","font":"Liberation Sans","fontSize":10,"color":"#FFFFFF"},
"encoding":{"x":{"datum":1872,"type":"quantitative","scale":{"domain":[0,1868],"nice":false,"zero":false}},"y":{"field":"p","type":"quantitative","scale":{"domain":[1.04036,1.28003],"nice":false,"zero":false}},"text":{"field":"p","type":"quantitative","format":".5f"}}},
{"data":{"name":"ttags"},"mark":{"type":"tick","orient":"horizontal","size":80,"thickness":14,"color":"#000","opacity":1},
"encoding":{"x":{"field":"x","type":"quantitative","scale":{"domain":[0,1868],"nice":false,"zero":false}},"y":{"datum":1.0379,"type":"quantitative","scale":{"domain":[1.04036,1.28003],"nice":false,"zero":false}}}},
{"data":{"name":"ttags"},"mark":{"type":"text","baseline":"middle","align":"center","font":"Liberation Sans","fontSize":10,"color":"#FFFFFF"},
"encoding":{"x":{"field":"x","type":"quantitative","scale":{"domain":[0,1868],"nice":false,"zero":false}},"y":{"datum":1.0379,"type":"quantitative","scale":{"domain":[1.04036,1.28003],"nice":false,"zero":false}},"text":{"field":"t"}}},
{"data":{"values":[{"t":"EURUSD,H4"}]},"mark":{"type":"text","baseline":"middle","align":"left","font":"Liberation Sans","fontSize":10,"color":"#000"},
"encoding":{"x":{"datum":17,"type":"quantitative","scale":{"domain":[0,1868],"nice":false,"zero":false}},"y":{"datum":1.2770,"type":"quantitative","scale":{"domain":[1.04036,1.28003],"nice":false,"zero":false}},"text":{"field":"t"}}},
{"data":{"values":[{"t":"▼"}]},"mark":{"type":"text","baseline":"middle","align":"center","font":"DejaVu Sans","fontSize":7,"color":"#000"},
"encoding":{"x":{"datum":7,"type":"quantitative","scale":{"domain":[0,1868],"nice":false,"zero":false}},"y":{"datum":1.2770,"type":"quantitative","scale":{"domain":[1.04036,1.28003],"nice":false,"zero":false}},"text":{"field":"t"}}}
]
}
